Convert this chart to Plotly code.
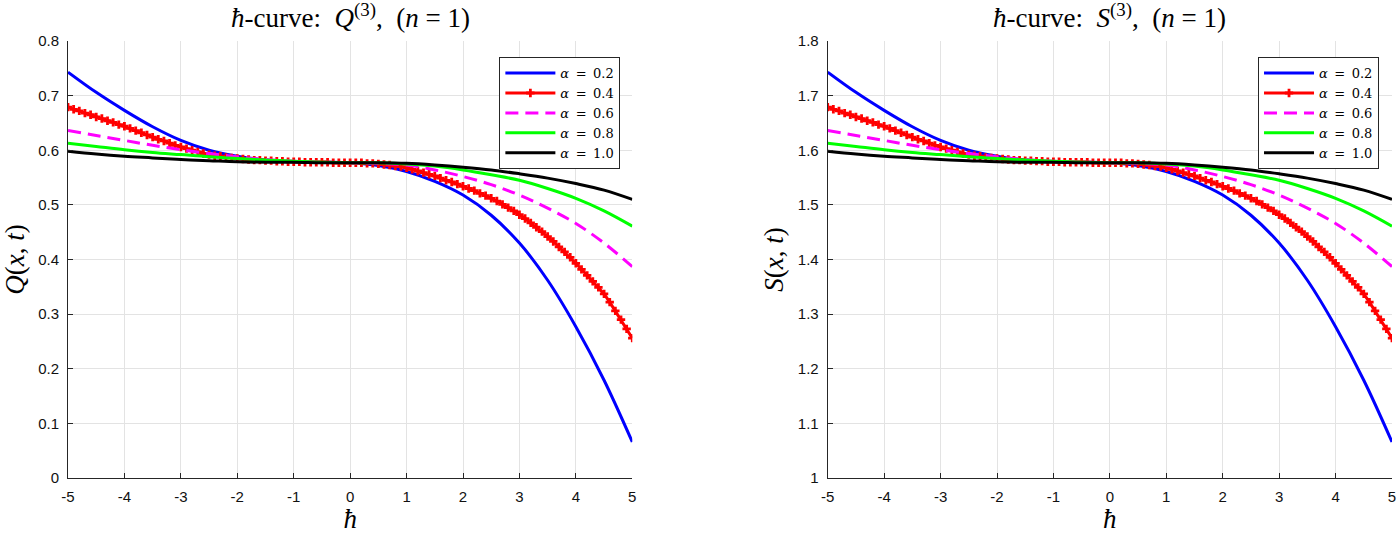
import plotly.graph_objects as go

# ---------------- data ----------------
hbar = [-5.0, -4.5, -4.0, -3.5, -3.0, -2.5, -2.0, -1.5, -1.0, -0.5, 0.0,
        0.5, 1.0, 1.5, 2.0, 2.5, 3.0, 3.5, 4.0, 4.5, 5.0]

hbar_fine = [round(-5 + 0.1 * i, 1) for i in range(101)]

alpha_labels = ["0.2", "0.4", "0.6", "0.8", "1.0"]

Q_a02 = [0.743, 0.706, 0.673, 0.643, 0.618, 0.600, 0.589, 0.582, 0.579, 0.578, 0.577,
         0.572, 0.561, 0.543, 0.518, 0.481, 0.430, 0.362, 0.277, 0.179, 0.066]
Q_a04 = [0.679, 0.675, 0.672, 0.668, 0.665, 0.661, 0.658, 0.654, 0.651, 0.647,
         0.644, 0.640, 0.636, 0.632, 0.628, 0.624, 0.620, 0.617, 0.613, 0.609,
         0.606, 0.603, 0.600, 0.597, 0.594, 0.592, 0.590, 0.589, 0.587, 0.586,
         0.585, 0.584, 0.583, 0.582, 0.582, 0.581, 0.581, 0.580, 0.580, 0.579,
         0.579, 0.579, 0.578, 0.578, 0.578, 0.578, 0.578, 0.577, 0.577, 0.577,
         0.577, 0.577, 0.577, 0.576, 0.576, 0.575, 0.574, 0.573, 0.571, 0.570,
         0.568, 0.565, 0.562, 0.559, 0.556, 0.553, 0.549, 0.545, 0.542, 0.538,
         0.534, 0.530, 0.526, 0.521, 0.517, 0.512, 0.507, 0.501, 0.495, 0.489,
         0.482, 0.475, 0.467, 0.459, 0.451, 0.442, 0.433, 0.423, 0.414, 0.404,
         0.393, 0.382, 0.371, 0.360, 0.349, 0.337, 0.322, 0.306, 0.290, 0.273,
         0.256]
Q_a06 = [0.636, 0.627, 0.618, 0.609, 0.601, 0.594, 0.588, 0.583, 0.580, 0.578, 0.577,
         0.576, 0.573, 0.564, 0.552, 0.537, 0.518, 0.494, 0.466, 0.430, 0.387]
Q_a08 = [0.613, 0.607, 0.601, 0.596, 0.592, 0.588, 0.585, 0.582, 0.580, 0.578, 0.577,
         0.577, 0.575, 0.571, 0.564, 0.555, 0.545, 0.530, 0.512, 0.489, 0.461]
Q_a10 = [0.598, 0.593, 0.589, 0.586, 0.583, 0.581, 0.579, 0.578, 0.578, 0.577, 0.577,
         0.577, 0.576, 0.573, 0.569, 0.564, 0.557, 0.549, 0.539, 0.527, 0.510]

S_a02 = [1.743, 1.706, 1.673, 1.643, 1.618, 1.600, 1.589, 1.582, 1.579, 1.578, 1.577,
         1.572, 1.561, 1.543, 1.518, 1.481, 1.430, 1.362, 1.277, 1.179, 1.066]
S_a04 = [1.679, 1.675, 1.672, 1.668, 1.665, 1.661, 1.658, 1.654, 1.651, 1.647,
         1.644, 1.640, 1.636, 1.632, 1.628, 1.624, 1.620, 1.617, 1.613, 1.609,
         1.606, 1.603, 1.600, 1.597, 1.594, 1.592, 1.590, 1.589, 1.587, 1.586,
         1.585, 1.584, 1.583, 1.582, 1.582, 1.581, 1.581, 1.580, 1.580, 1.579,
         1.579, 1.579, 1.578, 1.578, 1.578, 1.578, 1.578, 1.577, 1.577, 1.577,
         1.577, 1.577, 1.577, 1.576, 1.576, 1.575, 1.574, 1.573, 1.571, 1.570,
         1.568, 1.565, 1.562, 1.559, 1.556, 1.553, 1.549, 1.545, 1.542, 1.538,
         1.534, 1.530, 1.526, 1.521, 1.517, 1.512, 1.507, 1.501, 1.495, 1.489,
         1.482, 1.475, 1.467, 1.459, 1.451, 1.442, 1.433, 1.423, 1.414, 1.404,
         1.393, 1.382, 1.371, 1.360, 1.349, 1.337, 1.322, 1.306, 1.290, 1.273,
         1.256]
S_a06 = [1.636, 1.627, 1.618, 1.609, 1.601, 1.594, 1.588, 1.583, 1.580, 1.578, 1.577,
         1.576, 1.573, 1.564, 1.552, 1.537, 1.518, 1.494, 1.466, 1.430, 1.387]
S_a08 = [1.613, 1.607, 1.601, 1.596, 1.592, 1.588, 1.585, 1.582, 1.580, 1.578, 1.577,
         1.577, 1.575, 1.571, 1.564, 1.555, 1.545, 1.530, 1.512, 1.489, 1.461]
S_a10 = [1.598, 1.593, 1.589, 1.586, 1.583, 1.581, 1.579, 1.578, 1.578, 1.577, 1.577,
         1.577, 1.576, 1.573, 1.569, 1.564, 1.557, 1.549, 1.539, 1.527, 1.510]

x_ticks = [-5, -4, -3, -2, -1, 0, 1, 2, 3, 4, 5]
x_ticktext = ["-5", "-4", "-3", "-2", "-1", "0", "1", "2", "3", "4", "5"]
q_ticks = [0, 0.1, 0.2, 0.3, 0.4, 0.5, 0.6, 0.7, 0.8]
q_ticktext = ["0", "0.1", "0.2", "0.3", "0.4", "0.5", "0.6", "0.7", "0.8"]
s_ticks = [1, 1.1, 1.2, 1.3, 1.4, 1.5, 1.6, 1.7, 1.8]
s_ticktext = ["1", "1.1", "1.2", "1.3", "1.4", "1.5", "1.6", "1.7", "1.8"]

# ---------------- styling ----------------
SERIF = "Liberation Serif, Times New Roman, serif"
LEG_SERIF = "DejaVu Serif, Liberation Serif, serif"
SANS = "Liberation Sans, Arial, Helvetica, sans-serif"
AX = "#262626"
EN = "\u2002"

colors = ["#0000ff", "#ff0000", "#ff00ff", "#00ff00", "#000000"]

fig = go.Figure()


def add_set(ys, xa, ya, legend):
    for i, (lab, col) in enumerate(zip(alpha_labels, colors)):
        y = ys[i]
        name = "<i>α</i>" + EN + "=" + EN + lab
        if i == 1:
            fig.add_trace(go.Scatter(
                x=hbar_fine, y=y, mode="lines+markers", name=name,
                line=dict(color=col, width=3),
                marker=dict(symbol="cross", size=7, color=col),
                xaxis=xa, yaxis=ya, legend=legend))
        else:
            fig.add_trace(go.Scatter(
                x=hbar, y=y, mode="lines", name=name,
                line=dict(color=col, width=3, shape="spline", smoothing=1.0,
                          dash="13px,7px" if i == 2 else "solid"),
                xaxis=xa, yaxis=ya, legend=legend))


add_set([Q_a02, Q_a04, Q_a06, Q_a08, Q_a10], "x", "y", "legend")
add_set([S_a02, S_a04, S_a06, S_a08, S_a10], "x2", "y2", "legend2")

axis_common = dict(
    showgrid=True, gridcolor="#e3e3e3", gridwidth=1,
    showline=True, linecolor=AX, linewidth=1, mirror=False,
    ticks="inside", ticklen=5, tickcolor=AX, tickwidth=1,
    zeroline=False,
    tickfont=dict(family=SANS, size=15, color="#111111"),
)

L_DOM = [0.0, 0.4262]
R_DOM = [0.5738, 1.0]

title_font = dict(family=SERIF, size=27, color="black")
lab_font = dict(family=SERIF, size=27, color="black")


def title_text(letter):
    return ("<i>ħ</i>-curve:" + EN + "<i>" + letter + "</i><sup>(3)</sup>," + EN
            + "(<i>n</i> = 1)")


fig.update_layout(
    width=1400, height=534,
    margin=dict(l=68, r=4, t=41, b=56),
    paper_bgcolor="white", plot_bgcolor="white",
    showlegend=True,
    xaxis=dict(domain=L_DOM, range=[-5, 5], tickvals=x_ticks, ticktext=x_ticktext,
               ticklabelstandoff=5, anchor="y",
               title=dict(text="<i>ħ</i>", font=lab_font, standoff=4),
               **axis_common),
    yaxis=dict(domain=[0, 1], range=[0, 0.8], tickvals=q_ticks, ticktext=q_ticktext,
               ticklabelstandoff=5, anchor="x",
               title=dict(text="<i>Q</i>(<i>x</i>, <i>t</i>)", font=lab_font, standoff=6),
               **axis_common),
    xaxis2=dict(domain=R_DOM, range=[-5, 5], tickvals=x_ticks, ticktext=x_ticktext,
                ticklabelstandoff=5, anchor="y2",
                title=dict(text="<i>ħ</i>", font=lab_font, standoff=4),
                **axis_common),
    yaxis2=dict(domain=[0, 1], range=[1, 1.8], tickvals=s_ticks, ticktext=s_ticktext,
                ticklabelstandoff=5, anchor="x2",
                title=dict(text="<i>S</i>(<i>x</i>, <i>t</i>)", font=lab_font, standoff=6),
                **axis_common),
    legend=dict(x=0.4172, y=0.963, xanchor="right", yanchor="top",
                bgcolor="white", bordercolor=AX, borderwidth=1,
                font=dict(family=LEG_SERIF, size=13, color="black"),
                itemwidth=50, tracegroupgap=0, itemclick=False),
    legend2=dict(x=0.9902, y=0.963, xanchor="right", yanchor="top",
                 bgcolor="white", bordercolor=AX, borderwidth=1,
                 font=dict(family=LEG_SERIF, size=13, color="black"),
                 itemwidth=50, tracegroupgap=0, itemclick=False),
    annotations=[
        dict(text=title_text("Q"),
             x=(L_DOM[0] + L_DOM[1]) / 2, y=1.0, xref="paper", yref="paper",
             xanchor="center", yanchor="bottom", yshift=6, showarrow=False,
             font=title_font),
        dict(text=title_text("S"),
             x=(R_DOM[0] + R_DOM[1]) / 2, y=1.0, xref="paper", yref="paper",
             xanchor="center", yanchor="bottom", yshift=6, showarrow=False,
             font=title_font),
    ],
)

fig.write_html(
    "out.html",
    config={"displayModeBar": False},
    post_script=(
        "document.body.style.margin='0';"
        "document.body.style.padding='0';"
        "document.body.style.overflow='hidden';"
        "document.documentElement.style.overflow='hidden';"
    ),
)
